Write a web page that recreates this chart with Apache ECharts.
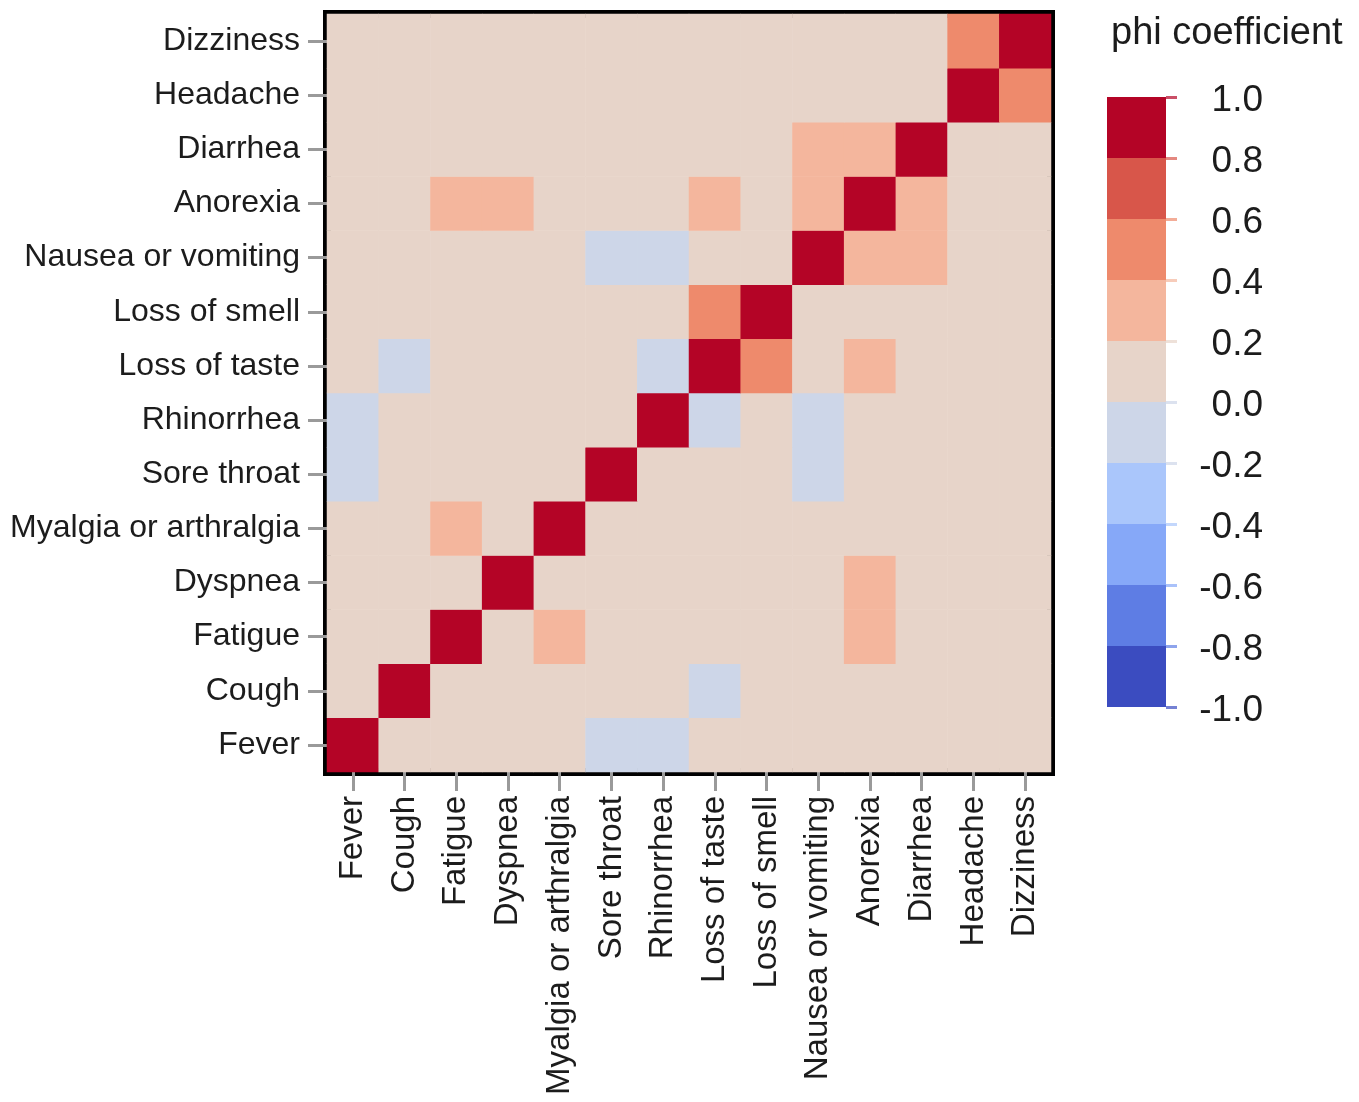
<!DOCTYPE html>
<html>
<head>
<meta charset="utf-8">
<script src="https://cdn.jsdelivr.net/npm/echarts@6/dist/echarts.min.js"></script>
<style>
html,body{margin:0;padding:0;background:#fff;}
#c{width:1359px;height:1102px;}
</style>
</head>
<body>
<div id="c"></div>
<script>
// Symptom categories (x: left->right, y: bottom->top)
const symptoms = ['Fever','Cough','Fatigue','Dyspnea','Myalgia or arthralgia','Sore throat','Rhinorrhea','Loss of taste','Loss of smell','Nausea or vomiting','Anorexia','Diarrhea','Headache','Dizziness'];

// phi coefficient matrix, one row per symptom (same order as symptoms)
const phiRows = [
  [1, .05, .05, .05, .05, -.06, -.07, .05, .05, .05, .05, .05, .05, .05],   // Fever
  [.05, 1, .05, .05, .05, .05, .05, -.06, .05, .05, .05, .05, .05, .05],    // Cough
  [.05, .05, 1, .05, .21, .05, .05, .05, .05, .05, .22, .05, .05, .05],     // Fatigue
  [.05, .05, .05, 1, .05, .05, .05, .05, .05, .05, .21, .05, .05, .05],     // Dyspnea
  [.05, .05, .21, .05, 1, .05, .05, .05, .05, .05, .05, .05, .05, .05],     // Myalgia or arthralgia
  [-.06, .05, .05, .05, .05, 1, .05, .05, .05, -.08, .05, .05, .05, .05],   // Sore throat
  [-.07, .05, .05, .05, .05, .05, 1, -.09, .05, -.07, .05, .05, .05, .05],  // Rhinorrhea
  [.05, -.06, .05, .05, .05, .05, -.09, 1, .52, .05, .22, .05, .05, .05],   // Loss of taste
  [.05, .05, .05, .05, .05, .05, .05, .52, 1, .05, .05, .05, .05, .05],     // Loss of smell
  [.05, .05, .05, .05, .05, -.08, -.07, .05, .05, 1, .23, .24, .05, .05],   // Nausea or vomiting
  [.05, .05, .22, .21, .05, .05, .05, .22, .05, .23, 1, .26, .05, .05],     // Anorexia
  [.05, .05, .05, .05, .05, .05, .05, .05, .05, .24, .26, 1, .05, .05],     // Diarrhea
  [.05, .05, .05, .05, .05, .05, .05, .05, .05, .05, .05, .05, 1, .47],     // Headache
  [.05, .05, .05, .05, .05, .05, .05, .05, .05, .05, .05, .05, .47, 1]      // Dizziness
];

// Colour scale bins (edges) and colours
const legendEdges = [-1, -0.8, -0.6, -0.4, -0.2, 0, 0.2, 0.4, 0.6, 0.8, 1];
const legendColors = ['#3B4CC0','#5E7DE4','#86A8F8','#AAC6FB','#CDD6E8','#E7D4C9','#F4B69D','#EE8A6C','#D8564A','#B40426'];
const legendTitle = 'phi coefficient';

const FONT = "'Liberation Sans', Arial, Helvetica, sans-serif";
const TXT = '#1c1c1c';

const chart = echarts.init(document.getElementById('c'), null, { renderer: 'canvas' });

const cells = [];
phiRows.forEach((row, y) => row.forEach((v, x) => cells.push([x, y, v])));

const last = legendColors.length - 1;
const pieces = legendColors.map((c, i) => i === last
  ? { gte: legendEdges[i], lte: legendEdges[i + 1], color: c }
  : { gte: legendEdges[i], lt: legendEdges[i + 1], color: c });

const bandAreas = legendColors.map((c, i) => [
  { yAxis: legendEdges[i], itemStyle: { color: c, opacity: 1 } },
  { yAxis: legendEdges[i + 1] }
]);

const fmt = v => '{t|' + (Math.abs(v) < 1e-9 ? '0.0' : Number(v).toFixed(1)) + '}';

// per-tick axes so each colourbar tick can take its band colour
const tickAxes = legendEdges.map((v, i) => ({
  type: 'value', gridIndex: 1, position: 'right', min: -1, max: 1, interval: 0.2,
  axisLine: { show: false }, splitLine: { show: false },
  axisLabel: { show: false },
  axisTick: {
    show: true, length: 11, customValues: [v],
    lineStyle: { width: 3, opacity: 0.7, color: i >= legendColors.length / 2 ? legendColors[i - 1] : legendColors[i] }
  }
}));

const option = {
  backgroundColor: '#ffffff',
  animation: false,
  textStyle: { fontFamily: FONT },
  title: {
    text: legendTitle, left: 1106, top: 10,
    textStyle: { fontFamily: FONT, fontSize: 38, fontWeight: 'normal', color: TXT }
  },
  grid: [
    { left: 327, top: 14, width: 724, height: 758, show: true, borderColor: '#000', borderWidth: 8, backgroundColor: 'transparent' },
    { left: 1107, top: 97, width: 59, height: 610, show: false }
  ],
  xAxis: [
    {
      type: 'category', gridIndex: 0, data: symptoms, position: 'bottom',
      axisLine: { show: false },
      axisTick: { show: true, alignWithLabel: true, length: 19, lineStyle: { color: '#9a9a9a', width: 3 } },
      axisLabel: { rotate: 90, margin: 24, fontSize: 33, color: TXT, fontFamily: FONT, interval: 0 },
      splitLine: { show: false }
    },
    {
      type: 'category', gridIndex: 1, data: [''], show: false
    }
  ],
  yAxis: [
    {
      type: 'category', gridIndex: 0, data: symptoms,
      axisLine: { show: false },
      axisTick: { show: true, alignWithLabel: true, length: 19, lineStyle: { color: '#9a9a9a', width: 3 } },
      axisLabel: { margin: 27, fontSize: 32, color: TXT, fontFamily: FONT, interval: 0 },
      splitLine: { show: false }
    },
    {
      type: 'value', gridIndex: 1, position: 'right', min: -1, max: 1, interval: 0.2,
      axisLine: { show: false }, splitLine: { show: false }, axisTick: { show: false },
      axisLabel: {
        show: true, align: 'right', margin: 97, color: TXT, fontFamily: FONT, fontSize: 37, formatter: fmt,
        rich: { t: { fontSize: 37, fontFamily: FONT, color: TXT, padding: [7, 0, 0, 0] } }
      }
    }
  ].concat(tickAxes),
  visualMap: {
    type: 'piecewise', show: false, seriesIndex: 0, dimension: 2, pieces: pieces
  },
  series: [
    {
      type: 'heatmap', xAxisIndex: 0, yAxisIndex: 0, data: cells,
      itemStyle: { borderWidth: 0 },
      emphasis: { disabled: true }
    },
    {
      type: 'line', xAxisIndex: 1, yAxisIndex: 1, data: [0],
      showSymbol: false, lineStyle: { width: 0, opacity: 0 }, silent: true,
      markArea: { silent: true, data: bandAreas }
    }
  ]
};
chart.setOption(option);
</script>
</body>
</html>
